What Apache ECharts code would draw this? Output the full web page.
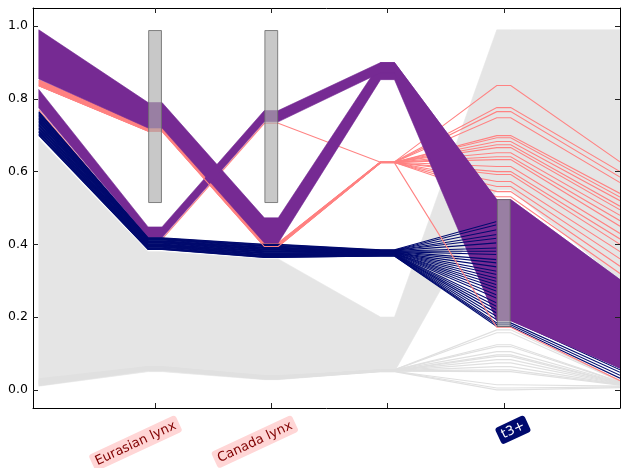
<!DOCTYPE html>
<html><head><meta charset="utf-8">
<script src="https://cdn.jsdelivr.net/npm/echarts@6/dist/echarts.min.js"></script>
<style>html,body{margin:0;padding:0;background:#fff}#c{width:623px;height:468px}</style>
</head><body><div id="c"></div>
<script>
// ---------- data ----------
const axisLabels = ['', 'Eurasian lynx', 'Canada lynx', '', 't3+', ''];
const labelKind  = ['', 'lynx', 'lynx', '', 'dark', ''];
const axisTickValues = [1, 2, 3, 4];
const yTicks = [0, 0.2, 0.4, 0.6, 0.8, 1.0];

// dense bundles: lower / upper envelope of values on the 6 axes
const grayLo    = [0.010, 0.050, 0.028, 0.050, 0.550, 0.300];
const grayHi    = [0.690, 0.380, 0.360, 0.200, 0.990, 0.990];
const purple1Lo = [0.855, 0.720, 0.404, 0.853, 0.190, 0.060];
const purple1Hi = [0.990, 0.790, 0.473, 0.900, 0.523, 0.303];
const purple2Lo = [0.775, 0.418, 0.737, 0.872, 0.190, 0.060];
const purple2Hi = [0.826, 0.448, 0.768, 0.900, 0.523, 0.303];

// individual lines
const navyLines = [
  [0.765,0.418,0.400,0.385,0.463,0.220],[0.763,0.417,0.399,0.384,0.454,0.210],
  [0.761,0.416,0.397,0.384,0.440,0.200],[0.758,0.415,0.396,0.383,0.427,0.190],
  [0.756,0.414,0.395,0.383,0.417,0.185],[0.754,0.413,0.394,0.382,0.404,0.180],
  [0.752,0.412,0.392,0.381,0.390,0.170],[0.749,0.410,0.391,0.381,0.381,0.165],
  [0.747,0.409,0.390,0.380,0.372,0.160],[0.745,0.408,0.389,0.380,0.358,0.150],
  [0.743,0.407,0.387,0.379,0.349,0.145],[0.740,0.406,0.386,0.378,0.338,0.140],
  [0.738,0.405,0.385,0.378,0.326,0.130],[0.736,0.404,0.384,0.377,0.317,0.125],
  [0.734,0.403,0.382,0.377,0.307,0.120],[0.731,0.401,0.381,0.376,0.298,0.110],
  [0.729,0.400,0.380,0.375,0.289,0.105],[0.727,0.399,0.379,0.375,0.280,0.100],
  [0.725,0.398,0.377,0.374,0.271,0.095],[0.722,0.397,0.376,0.374,0.261,0.090],
  [0.720,0.396,0.375,0.373,0.252,0.085],[0.718,0.395,0.374,0.372,0.239,0.080],
  [0.716,0.394,0.372,0.372,0.229,0.075],[0.713,0.393,0.371,0.371,0.220,0.070],
  [0.711,0.392,0.370,0.371,0.211,0.065],[0.709,0.390,0.369,0.370,0.202,0.060],
  [0.707,0.389,0.367,0.369,0.193,0.055],[0.704,0.388,0.366,0.369,0.184,0.048],
  [0.702,0.387,0.365,0.368,0.179,0.040],[0.700,0.386,0.364,0.368,0.174,0.032]
];
const pinkLines = [
  [0.852,0.720,0.404,0.627,0.837,0.627],[0.851,0.720,0.403,0.627,0.776,0.600],
  [0.850,0.719,0.403,0.626,0.765,0.585],[0.849,0.719,0.402,0.626,0.748,0.570],
  [0.848,0.718,0.402,0.626,0.699,0.540],[0.847,0.718,0.401,0.626,0.693,0.530],
  [0.846,0.717,0.401,0.626,0.683,0.520],[0.845,0.717,0.400,0.626,0.674,0.505],
  [0.844,0.716,0.400,0.626,0.666,0.495],[0.843,0.716,0.399,0.626,0.652,0.480],
  [0.842,0.715,0.399,0.626,0.641,0.465],[0.841,0.715,0.398,0.626,0.633,0.450],
  [0.770,0.414,0.733,0.626,0.614,0.430],[0.840,0.714,0.397,0.625,0.600,0.415],
  [0.839,0.714,0.397,0.625,0.592,0.400],[0.838,0.713,0.396,0.625,0.573,0.380],
  [0.837,0.713,0.396,0.625,0.559,0.360],[0.837,0.712,0.395,0.625,0.545,0.340],
  [0.836,0.712,0.395,0.625,0.531,0.320]
];
const pinkLowLines = [
  [0.836,0.711,0.394,0.624,0.172,0.025]
];
const grayLowLines = [
  [0.020,0.060,0.035,0.055,0.165,0.025],[0.022,0.062,0.036,0.055,0.157,0.024],
  [0.025,0.060,0.037,0.054,0.124,0.022],[0.018,0.058,0.034,0.054,0.119,0.021],
  [0.030,0.064,0.038,0.054,0.105,0.020],[0.028,0.061,0.036,0.053,0.096,0.019],
  [0.024,0.059,0.035,0.053,0.092,0.018],[0.021,0.057,0.033,0.053,0.083,0.017],
  [0.026,0.063,0.039,0.052,0.074,0.016],[0.019,0.056,0.032,0.052,0.064,0.015],
  [0.023,0.060,0.034,0.052,0.055,0.014],[0.027,0.062,0.037,0.051,0.050,0.013],
  [0.015,0.055,0.031,0.051,0.014,0.010],[0.017,0.056,0.032,0.051,0.005,0.008],
  [0.012,0.054,0.030,0.050,0.000,0.006]
];

// selection boxes (axis, low, high)
const boxAxis = [1, 2, 4];
const boxLo   = [0.515, 0.515, 0.174];
const boxHi   = [0.988, 0.988, 0.523];

// ---------- drawing ----------
const D = 0.06, BW = 0.055;
const xsFor = i => (i === 0 || i === 5) ? [i] : [i - D, i + D];
function pathPts(vals, api, x0, x1) {
  const pts = [];
  for (let i = 0; i < 6; i++) for (const x of xsFor(i))
    if (x >= x0 - 1e-9 && x <= x1 + 1e-9) pts.push(api.coord([x, vals[i]]));
  return pts;
}
function bandSeries(bands, color, x0, x1, z) {
  return { type: 'custom', z, clip: true, silent: true, animation: false,
    data: bands.map(b => [0, b.lo[0]]),
    renderItem: (p, api) => {
      const b = bands[p.dataIndex];
      const hi = pathPts(b.hi, api, x0, x1), lo = pathPts(b.lo, api, x0, x1).reverse();
      return { type: 'polygon', shape: { points: hi.concat(lo) },
               style: { fill: color, stroke: color, lineWidth: 0.6 } };
    } };
}
function lineSeries(lines, color, width, z) {
  return { type: 'custom', z, clip: true, silent: true, animation: false,
    data: lines.map(l => [0, l[0]]),
    renderItem: (p, api) => ({ type: 'polyline',
      shape: { points: pathPts(lines[p.dataIndex], api, -1, 6) },
      style: { stroke: color, lineWidth: width, fill: null } }) };
}
const PURPLE = '#762a93', NAVY = '#000a6e', PINK = '#ff8282', GRAY = '#e5e5e5';
const purpleBands = [{ lo: purple1Lo, hi: purple1Hi }, { lo: purple2Lo, hi: purple2Hi }];

const chart = echarts.init(document.getElementById('c'), null, { renderer: 'canvas' });
const tickStyle = { color: '#222', width: 1 };
const FONT = 'DejaVu Sans';
const LABEL_SHIFT = 0.205;
chart.setOption({
  animation: false,
  backgroundColor: '#fff',
  grid: { left: 33, right: 3, top: 8, bottom: 60, outerBoundsMode: 'none' },
  xAxis: [
    { type: 'value', min: -0.05, max: 5, position: 'bottom', z: 10,
      axisLine: { show: true, onZero: false, lineStyle: { color: '#000', width: 1 } },
      axisTick: { show: true, inside: true, length: 5, customValues: axisTickValues, lineStyle: tickStyle },
      axisLabel: { show: false }, splitLine: { show: false } },
    { type: 'value', min: -0.05 - LABEL_SHIFT, max: 5 - LABEL_SHIFT, position: 'bottom', z: 10,
      axisLine: { show: false, onZero: false }, axisTick: { show: false }, splitLine: { show: false },
      axisLabel: { show: true, customValues: [1, 2, 4], rotate: 25, margin: 15,
        formatter: v => { const i = Math.round(v); return '{' + labelKind[i] + '|' + axisLabels[i] + '}'; },
        rich: {
          lynx: { color: '#800000', backgroundColor: '#ffd6d6', padding: [3, 4, 2, 4], borderRadius: 3,
                  fontSize: 13, fontFamily: FONT },
          dark: { color: '#ffffff', backgroundColor: '#000a6e', padding: [3, 4, 2, 4], borderRadius: 3,
                  fontSize: 13, fontFamily: FONT }
        } } },
    { type: 'value', min: -0.05, max: 5, position: 'top', z: 10,
      axisLine: { show: true, onZero: false, lineStyle: { color: '#000', width: 1 } },
      axisTick: { show: true, inside: true, length: 5, customValues: axisTickValues, lineStyle: tickStyle },
      axisLabel: { show: false }, splitLine: { show: false } }
  ],
  yAxis: [
    { type: 'value', min: -0.05, max: 1.05, position: 'left', z: 10,
      axisLine: { show: true, onZero: false, lineStyle: { color: '#000', width: 1 } },
      axisTick: { show: true, inside: true, length: 5, customValues: yTicks, lineStyle: tickStyle },
      axisLabel: { show: true, customValues: yTicks, margin: 5, color: '#000', fontSize: 12.5,
                   fontFamily: FONT, formatter: v => v.toFixed(1) },
      splitLine: { show: false } },
    { type: 'value', min: -0.05, max: 1.05, position: 'right', z: 10,
      axisLine: { show: true, onZero: false, lineStyle: { color: '#000', width: 1 } },
      axisTick: { show: true, inside: true, length: 5, customValues: yTicks, lineStyle: tickStyle },
      axisLabel: { show: false }, splitLine: { show: false } }
  ],
  series: [
    bandSeries([{ lo: grayLo, hi: grayHi }], GRAY, -1, 6, 1),
    lineSeries(grayLowLines, '#e0e0e0', 1.2, 1),
    lineSeries(pinkLines, PINK, 1.1, 2),
    bandSeries(purpleBands, PURPLE, -1, 4 - D, 3),
    lineSeries(navyLines, NAVY, 1.1, 4),
    lineSeries(pinkLowLines, PINK, 1.1, 5),
    bandSeries(purpleBands, PURPLE, 4 - D, 6, 6),
    { type: 'custom', z: 7, clip: true, silent: true, animation: false,
      data: boxAxis.map((a, i) => [a, boxLo[i]]),
      renderItem: (p, api) => {
        const i = p.dataIndex;
        const tl = api.coord([boxAxis[i] - BW, boxHi[i]]), br = api.coord([boxAxis[i] + BW, boxLo[i]]);
        return { type: 'rect', shape: { x: tl[0], y: tl[1], width: br[0] - tl[0], height: br[1] - tl[1] },
                 style: { fill: 'rgba(172,172,172,0.66)', stroke: 'rgba(110,110,110,0.85)', lineWidth: 1 } };
      } }
  ]
});
</script></body></html>
